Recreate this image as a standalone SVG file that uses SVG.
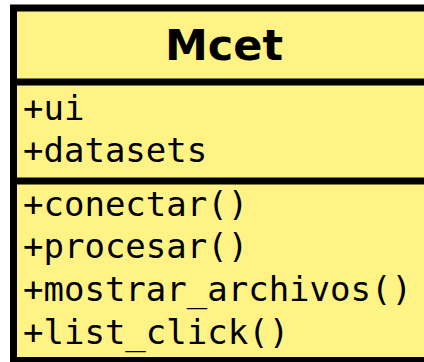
<svg xmlns="http://www.w3.org/2000/svg" width="424" height="362" viewBox="0 0 424 362">
<style>
.box{fill:#fff385;stroke:#000;stroke-width:7}
.div{stroke:#000;stroke-width:7}
.t{font-family:"DejaVu Sans",sans-serif;font-weight:bold;font-size:43px;fill:#000}
.m{font-family:"DejaVu Sans Mono",monospace;font-size:34px;fill:#000}
</style>
<rect width="424" height="362" fill="#fff"/>
<g id="Mcet">
<rect class="box" x="13.5" y="8" width="421" height="352.5"/>
<line class="div" x1="13.5" y1="82" x2="434.5" y2="82"/>
<line class="div" x1="13.5" y1="181" x2="434.5" y2="181"/>
<text class="t" x="224" y="60" text-anchor="middle">Mcet</text>
<text class="m" x="23" y="120">+ui</text>
<text class="m" x="23" y="162">+datasets</text>
<text class="m" x="23" y="216">+conectar()</text>
<text class="m" x="23" y="258">+procesar()</text>
<text class="m" x="23" y="301">+mostrar_archivos()</text>
<text class="m" x="23" y="344">+list_click()</text>
</g>
<g id="connectors"/>
</svg>
